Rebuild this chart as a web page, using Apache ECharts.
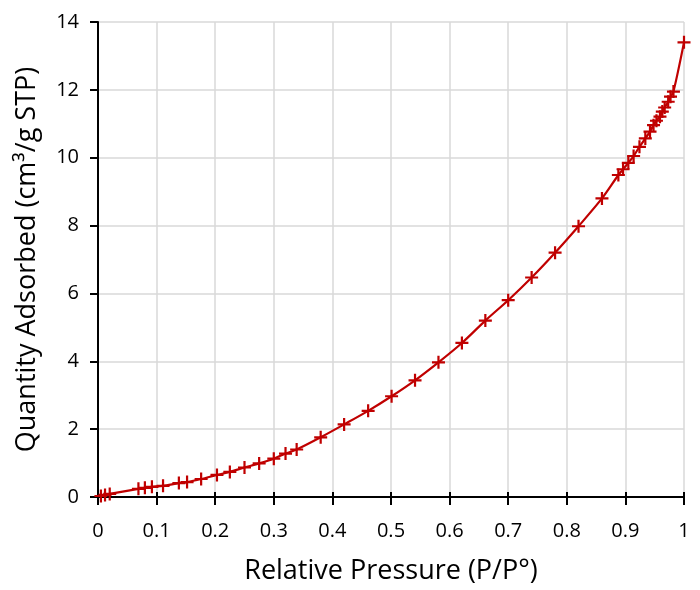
<!DOCTYPE html>
<html>
<head>
<meta charset="utf-8">
<script src="https://cdn.jsdelivr.net/npm/echarts@6/dist/echarts.min.js"></script>
<style>html,body{margin:0;padding:0;background:#fff}#c{width:700px;height:590px}</style>
</head>
<body>
<div id="c"></div>
<script>
const pressure = [0.005,0.012,0.020,0.069,0.080,0.092,0.111,0.138,0.152,0.176,0.203,0.225,0.250,0.275,0.300,0.320,0.339,0.380,0.420,0.461,0.501,0.541,0.581,0.621,0.661,0.700,0.740,0.780,0.820,0.860,0.888,0.896,0.905,0.914,0.924,0.934,0.942,0.948,0.953,0.959,0.963,0.967,0.973,0.977,0.982,1.000];
const adsorbed = [0.03,0.06,0.09,0.24,0.27,0.30,0.33,0.41,0.44,0.53,0.65,0.74,0.87,0.99,1.13,1.28,1.40,1.76,2.14,2.54,2.97,3.44,3.97,4.54,5.20,5.80,6.47,7.20,7.98,8.80,9.49,9.66,9.85,10.05,10.32,10.57,10.77,10.96,11.09,11.21,11.36,11.48,11.65,11.80,11.95,13.40];
const xTicks = [0,0.1,0.2,0.3,0.4,0.5,0.6,0.7,0.8,0.9,1];
const yTicks = [0,2,4,6,8,10,12,14];
const xTitle = 'Relative Pressure (P/P°)';
const yTitle = 'Quantity Adsorbed (cm³/g STP)';

const font = '"Open Sans", Lato, sans-serif';
const chart = echarts.init(document.getElementById('c'));
chart.setOption({
  animation: false,
  grid: {left: 98, right: 16, top: 22, bottom: 93},
  xAxis: [{
    type: 'value', min: xTicks[0], max: xTicks[xTicks.length - 1], interval: 0.1,
    position: 'bottom',
    name: xTitle, nameLocation: 'middle', nameGap: 61,
    nameTextStyle: {fontFamily: font, fontSize: 27, color: '#000'},
    axisLine: {show: true, onZero: false, lineStyle: {color: '#000', width: 2}},
    axisTick: {show: true, length: 8, lineStyle: {color: '#000', width: 2}},
    axisLabel: {fontFamily: font, fontSize: 20, color: '#000', margin: 24,
      formatter: v => String(+v.toFixed(1))},
    splitLine: {show: true, lineStyle: {color: '#d9d9d9', width: 1.5}}
  }, {
    type: 'value', min: xTicks[0], max: xTicks[xTicks.length - 1], interval: 0.1,
    position: 'bottom', offset: 0,
    axisLine: {show: false, onZero: false},
    axisTick: {show: true, inside: true, length: 5, lineStyle: {color: '#000', width: 2}},
    axisLabel: {show: false},
    splitLine: {show: false}
  }],
  yAxis: {
    type: 'value', min: yTicks[0], max: yTicks[yTicks.length - 1], interval: 2,
    name: yTitle, nameLocation: 'middle', nameGap: 57,
    nameTextStyle: {fontFamily: font, fontSize: 27, color: '#000'},
    axisLine: {show: true, lineStyle: {color: '#000', width: 2}},
    axisTick: {show: true, length: 8, lineStyle: {color: '#000', width: 2}},
    axisLabel: {fontFamily: font, fontSize: 20, color: '#000', margin: 19},
    splitLine: {show: true, lineStyle: {color: '#d9d9d9', width: 1.5}}
  },
  series: [{
    type: 'line',
    data: pressure.map((p, i) => [p, adsorbed[i]]),
    smooth: 0.3,
    showAllSymbol: true,
    symbol: 'path://M4.15,0h1.7v10h-1.7z M0,4.15h10v1.7h-10z',
    symbolSize: 13,
    itemStyle: {color: '#C00000'},
    lineStyle: {color: '#C00000', width: 2.2}
  }]
});
</script>
</body>
</html>
